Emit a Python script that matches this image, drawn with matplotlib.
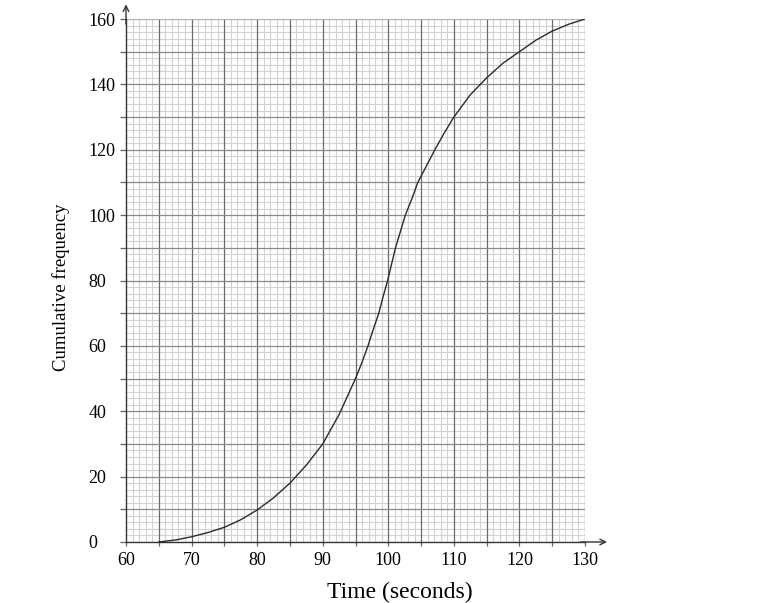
import matplotlib
matplotlib.use("Agg")
import matplotlib.pyplot as plt
import numpy as np

# Values
time_s = [65, 67.5, 70, 72.5, 75, 77.5, 80, 82.5, 85, 87.5, 90, 92.5, 95,
          96.0, 96.9, 97.7, 98.55, 99.2, 99.9, 100.5, 101.1, 101.85, 102.6,
          103.6, 104.5, 105.8, 107.1, 108.5, 110, 112.5, 115, 117.5, 120,
          122.5, 125, 127.5, 130]
cum_freq = [0, 0.6, 1.6, 2.9, 4.5, 6.8, 9.8, 13.5, 18, 23.5, 30, 39, 50,
            55, 60, 65, 70, 75, 80, 85, 90, 95, 100,
            105, 110, 115, 120, 125, 130, 136.8, 142, 146.5, 150,
            153.5, 156.3, 158.4, 160]

x_major_labels = [60, 70, 80, 90, 100, 110, 120, 130]
y_major_labels = [0, 20, 40, 60, 80, 100, 120, 140, 160]

plt.rcParams['font.family'] = ['Liberation Serif', 'DejaVu Serif']

fig = plt.figure(figsize=(7.74, 6.03), dpi=100)
ax = fig.add_axes([126/774, 1-542/603, (585-126)/774, (542-19)/603])
ax.set_xlim(60, 130)
ax.set_ylim(0, 160)

# graph-paper grid, drawn manually so major lines sit above minor lines
for v in np.arange(60, 131, 1):
    if v % 5:
        ax.axvline(v, color='#d2d2d2', lw=0.8, zorder=0.5)
for v in np.arange(0, 161, 2):
    if v % 10:
        ax.axhline(v, color='#d2d2d2', lw=0.8, zorder=0.5)
for v in np.arange(65, 131, 5):
    ax.axvline(v, color='#6a6a6a', lw=0.9, zorder=1)
for v in np.arange(10, 161, 10):
    ax.axhline(v, color='#8a8a8a' if v < 160 else '#b0b0b0', lw=0.9, zorder=1)

ax.set_xticks(np.arange(60, 131, 5))
ax.set_xticklabels([str(v) if v in x_major_labels else "" for v in range(60, 131, 5)])
ax.set_yticks(np.arange(0, 161, 10))
ax.set_yticklabels([str(v) if v in y_major_labels else "" for v in range(0, 161, 10)])

ax.tick_params(axis='y', which='major', length=4, width=0.9, color='#666666',
               labelsize=13, pad=23)
ax.tick_params(axis='x', which='major', length=3, width=0.9, color='#666666',
               labelsize=13, pad=4)
for lbl in ax.get_yticklabels():
    lbl.set_horizontalalignment('left')

for s in ['left', 'bottom']:
    ax.spines[s].set_color('#333333')
    ax.spines[s].set_linewidth(1.0)
    ax.spines[s].set_zorder(3)
ax.spines['top'].set_visible(False)
ax.spines['right'].set_visible(False)

ax.plot(time_s, cum_freq, color='#2a2a2a', lw=1.0, zorder=5)

# axis arrows
ax.annotate('', xy=(0, 1.028), xytext=(0, 0.99), xycoords='axes fraction',
            arrowprops=dict(arrowstyle='->', color='#333333', lw=1.0,
                            shrinkA=0, shrinkB=0), annotation_clip=False)
ax.annotate('', xy=(1.048, 0), xytext=(0.99, 0), xycoords='axes fraction',
            arrowprops=dict(arrowstyle='->', color='#333333', lw=1.0,
                            shrinkA=0, shrinkB=0), annotation_clip=False)

fig.text(400/774, 1-592/603, 'Time (seconds)', ha='center', va='center', fontsize=17)
fig.text(61/774, 1-287/603, 'Cumulative frequency', ha='center', va='center',
         rotation=90, fontsize=13.5)

fig.savefig('out.png', dpi=100)
